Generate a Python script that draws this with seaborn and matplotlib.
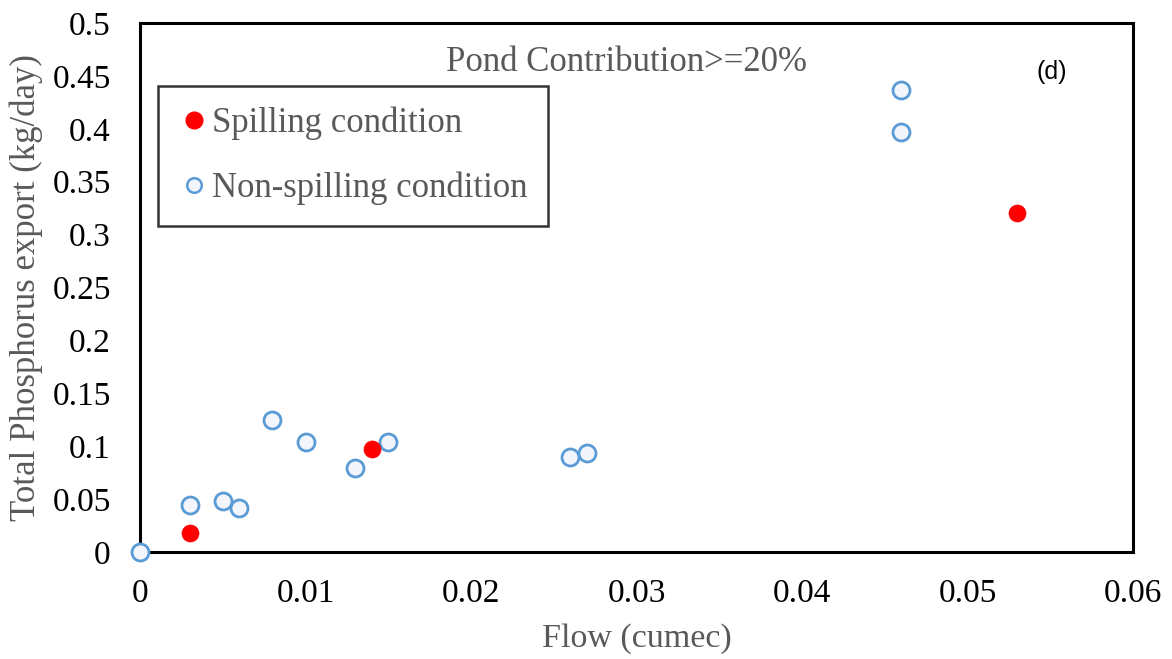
import matplotlib
matplotlib.use("Agg")
import matplotlib.pyplot as plt
import seaborn as sns
import pandas as pd
from matplotlib.lines import Line2D

# Data
spill_flow = [0.003, 0.014, 0.053]
spill_tp = [0.018, 0.097, 0.320]
nonspill_flow = [0.0, 0.003, 0.005, 0.006, 0.008, 0.010, 0.013, 0.015, 0.026, 0.027, 0.046, 0.046]
nonspill_tp = [0.0, 0.044, 0.048, 0.042, 0.125, 0.104, 0.079, 0.104, 0.090, 0.094, 0.437, 0.397]
x_ticks = [0, 0.01, 0.02, 0.03, 0.04, 0.05, 0.06]
x_tick_labels = ["0", "0.01", "0.02", "0.03", "0.04", "0.05", "0.06"]
y_ticks = [0, 0.05, 0.1, 0.15, 0.2, 0.25, 0.3, 0.35, 0.4, 0.45, 0.5]
y_tick_labels = ["0", "0.05", "0.1", "0.15", "0.2", "0.25", "0.3", "0.35", "0.4", "0.45", "0.5"]

sns.set_theme(style="white")
plt.rcParams['font.family'] = ['Liberation Serif', 'DejaVu Serif']

fig = plt.figure(figsize=(11.72, 6.59), dpi=100)
ax = fig.add_axes([140/1172, 1 - 552/659, (1133-140)/1172, (552-23)/659])

df_ns = pd.DataFrame({"flow": nonspill_flow, "tp": nonspill_tp})
df_s = pd.DataFrame({"flow": spill_flow, "tp": spill_tp})

blue = "#5B9BD5"
sns.scatterplot(data=df_ns, x="flow", y="tp", ax=ax, s=150, marker="o",
                facecolor="#F2F6FC", edgecolor=blue, linewidth=2.0,
                clip_on=False, zorder=5, legend=False)
sns.scatterplot(data=df_s, x="flow", y="tp", ax=ax, s=150, marker="o",
                color="#FF0000", edgecolor="#FF0000", linewidth=0.5,
                clip_on=False, zorder=6, legend=False)

ax.set_xlim(0, 0.06)
ax.set_ylim(0, 0.5)
ax.set_xticks(x_ticks)
ax.set_xticklabels(x_tick_labels)
ax.set_yticks(y_ticks)
ax.set_yticklabels(y_tick_labels)
ax.tick_params(axis="both", length=0, labelsize=24, labelcolor="black")
ax.tick_params(axis="x", pad=19)
ax.tick_params(axis="y", pad=21)

for sp in ax.spines.values():
    sp.set_visible(True)
    sp.set_color("black")
    sp.set_linewidth(2.2)

ax.set_xlabel("Flow (cumec)", fontsize=24.5, color="#595959", labelpad=10)
ax.set_ylabel("Total Phosphorus export (kg/day)", fontsize=25, color="#595959", labelpad=7)

ax.text(0.490, 0.925, "Pond Contribution>=20%", transform=ax.transAxes,
        ha="center", va="center", fontsize=25, color="#595959")
ax.text(0.918, 0.908, "(d)", transform=ax.transAxes, ha="center", va="center",
        fontsize=18, color="black", family=["Liberation Sans", "DejaVu Sans"])

handles = [
    Line2D([], [], linestyle="none", marker="o", markersize=12,
           markerfacecolor="#FF0000", markeredgecolor="#FF0000"),
    Line2D([], [], linestyle="none", marker="o", markersize=10.5,
           markerfacecolor="#F2F6FC", markeredgecolor=blue, markeredgewidth=1.8),
]
leg = ax.legend(handles, ["Spilling condition", "Non-spilling condition"],
                loc="upper left", bbox_to_anchor=(0.018, 0.881),
                fontsize=25, frameon=True, fancybox=False, edgecolor="black",
                handletextpad=0.05, handlelength=0.9, labelspacing=0.9,
                borderpad=0.6, borderaxespad=0)
leg.get_frame().set_linewidth(1.8)
for t in leg.get_texts():
    t.set_color("#595959")

fig.savefig("out.png", dpi=100)
